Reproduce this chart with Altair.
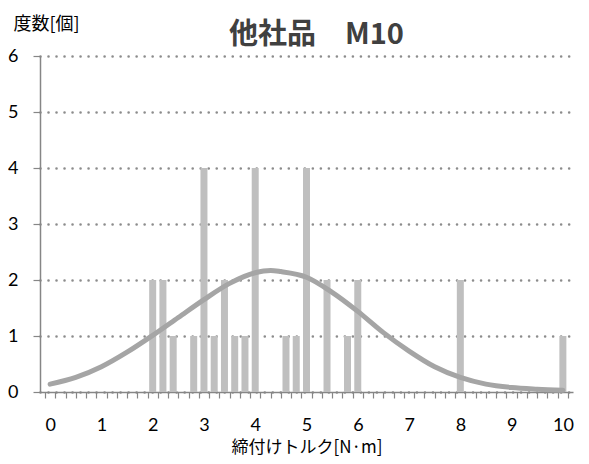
import altair as alt
import pandas as pd

# Histogram bins (torque, N·m) and counts
bin_x = [2.0, 2.2, 2.4, 2.8, 3.0, 3.2, 3.4, 3.6, 3.8, 4.0, 4.6, 4.8, 5.0, 5.4, 5.8, 6.0, 8.0, 10.0]
bin_count = [2, 2, 1, 1, 4, 1, 2, 1, 1, 4, 1, 1, 4, 2, 1, 2, 2, 1]

# Fitted distribution curve
curve_x = [0, 0.5, 1, 1.5, 2, 2.5, 3, 3.5, 4, 4.3, 4.5, 5, 5.5, 6, 6.5, 7, 7.5, 8, 8.5, 9, 9.5, 10]
curve_y = [0.14, 0.26, 0.45, 0.71, 1.01, 1.33, 1.65, 1.94, 2.13, 2.17, 2.15, 2.05, 1.78, 1.44,
           1.06, 0.73, 0.45, 0.26, 0.14, 0.08, 0.05, 0.03]

y_ticks = [0, 1, 2, 3, 4, 5, 6]
x_minor_ticks = [round(-0.1 + 0.2 * i, 1) for i in range(52)]

bars_df = pd.DataFrame({"x": bin_x, "count": bin_count})
curve_df = pd.DataFrame({"x": curve_x, "y": curve_y})

JP = "Noto Sans CJK JP"
NUM = "Lato"
AXIS_GRAY = "#868686"

x_scale = alt.Scale(domain=[-0.1, 10.1], nice=False, zero=False)
y_scale = alt.Scale(domain=[0, 6], nice=False)

x_axis = alt.Axis(
    values=x_minor_ticks,
    labelExpr="round((datum.value + 0.1) * 10) % 10 == 0 ? '' + round(datum.value + 0.1) : ''",
    labelOffset=5.2,
    labelOverlap=False,
    labelFlush=False,
    labelFont=NUM,
    labelFontSize=18,
    labelColor="#000000",
    labelPadding=18,
    tickSize=6,
    tickColor=AXIS_GRAY,
    tickWidth=1.2,
    domainColor=AXIS_GRAY,
    domainWidth=1.5,
    grid=False,
    title="締付けトルク[N·m]",
    titleFont=JP,
    titleFontSize=17,
    titleFontWeight="normal",
    titleColor="#000000",
    titlePadding=5,
)

y_axis = alt.Axis(
    values=y_ticks,
    labelFont=NUM,
    labelFontSize=18,
    labelColor="#000000",
    labelPadding=15,
    tickSize=7,
    tickColor=AXIS_GRAY,
    tickWidth=1.2,
    domainColor=AXIS_GRAY,
    domainWidth=1.5,
    grid=True,
    gridColor="#8c8c8c",
    gridDash=[0.01, 8],
    gridWidth=2.6,
    gridCap="round",
    title="度数[個]",
    titleFont=JP,
    titleFontSize=18,
    titleFontWeight="normal",
    titleColor="#000000",
    titleAngle=0,
    titleAlign="left",
    titleBaseline="top",
    titleX=-27,
    titleY=-41,
)

bars = alt.Chart(bars_df).mark_bar(color="#bfbfbf", size=7).encode(
    x=alt.X("x:Q", scale=x_scale, axis=x_axis),
    y=alt.Y("count:Q", scale=y_scale, axis=y_axis),
)

curve = alt.Chart(curve_df).mark_line(
    color="#a5a5a5", strokeWidth=5, strokeCap="round", interpolate="monotone"
).encode(
    x=alt.X("x:Q", scale=x_scale, axis=x_axis),
    y=alt.Y("y:Q", scale=y_scale, axis=y_axis),
)

chart = alt.layer(bars, curve).properties(
    width=533,
    height=336,
    padding={"left": 32, "top": 48, "right": 8, "bottom": 64},
    autosize=alt.AutoSizeParams(type="none"),
    title=alt.TitleParams(
        "他社品　M10",
        font=JP,
        fontSize=29,
        fontWeight="bold",
        color="#404040",
        anchor="middle",
        dx=10,
        dy=35,
        offset=0,
    ),
).configure_view(stroke=None)

chart.save("out.html", embed_options={"renderer": "svg", "actions": False})
